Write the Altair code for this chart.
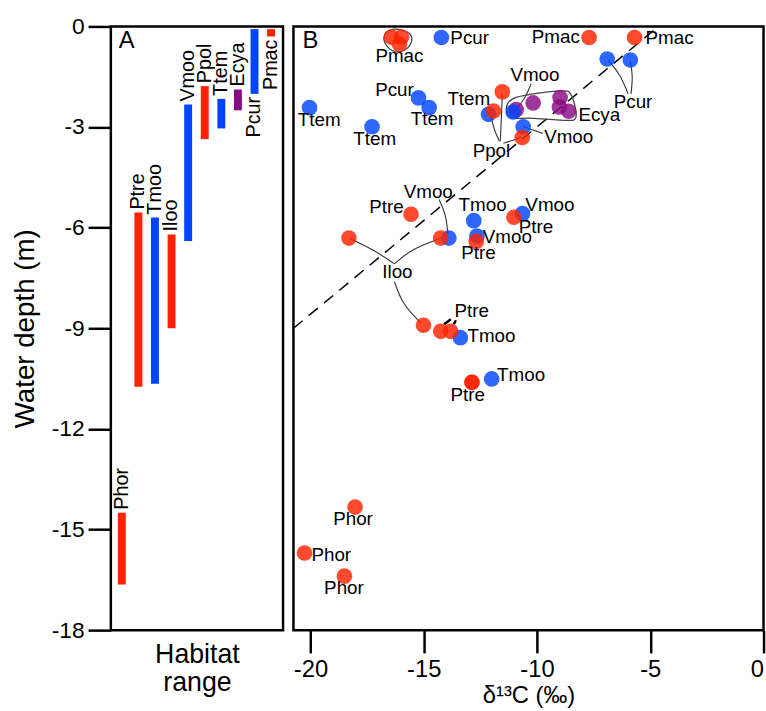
import altair as alt
import pandas as pd

FONT = "Liberation Sans"

# ---------------- Panel A : habitat depth ranges ----------------
hab_species = ["Phor", "Ptre", "Tmoo", "Iloo", "Vmoo", "Ppol", "Ttem", "Ecya", "Pcur", "Pmac"]
hab_pos = [0, 1, 2, 3, 4, 5, 6, 7, 8, 9]
hab_top = [-14.5, -5.55, -5.7, -6.2, -2.33, -1.78, -2.16, -1.88, -0.08, -0.08]
hab_bottom = [-16.64, -10.74, -10.65, -9.0, -6.4, -3.36, -3.04, -2.5, -2.01, -0.3]
hab_group = ["red", "red", "blue", "red", "blue", "red", "blue", "purple", "blue", "red"]
hab_side = ["above", "above", "above", "above", "above", "above", "above", "above", "below", "below"]

# ---------------- Panel B : d13C vs depth points ----------------
pt_x = [
    -10.92, -10.17, -8.98, -9.01, -8.60,
    -14.22, -15.23, -14.76, -20.04, -17.28, -12.14, -11.05, -10.61, -6.90, -5.88,
    -13.89, -12.79, -12.65, -10.64, -13.38, -12.00,
    -16.42, -15.98, -16.07, -7.70, -5.69, -11.53, -11.92, -10.65,
    -15.56, -18.30, -14.25, -15.01, -12.68, -11.02, -14.25, -13.81,
    -12.87, -12.87, -18.03, -20.26, -18.50,
]
pt_y = [
    -2.48, -2.28, -2.12, -2.40, -2.53,
    -0.33, -2.13, -2.42, -2.42, -2.99, -2.62, -2.55, -2.99, -0.97, -1.00,
    -6.31, -5.79, -6.25, -5.58, -9.28, -10.51,
    -0.32, -0.32, -0.53, -0.33, -0.33, -1.95, -2.52, -3.31,
    -5.60, -6.31, -6.31, -8.91, -6.41, -5.69, -9.09, -9.09,
    -10.61, -10.61, -14.33, -15.70, -16.39,
]
pt_group = (["purple"] * 5) + (["blue"] * 16) + (["red"] * 21)

lab_text = ["Pmac", "Pcur", "Pcur", "Ttem", "Ttem", "Ttem", "Ttem", "Vmoo", "Ecya", "Vmoo",
            "Ppol", "Pmac", "Pmac", "Pcur", "Ptre", "Vmoo", "Tmoo", "Vmoo", "Ptre", "Vmoo",
            "Ptre", "Iloo", "Ptre", "Tmoo", "Tmoo", "Ptre", "Phor", "Phor", "Phor"]
lab_x = [-16.07, -12.97, -16.29, -19.61, -17.16, -14.63, -13.01, -10.09, -7.25, -8.60,
         -12.01, -9.17, -4.15, -5.76, -16.64, -14.80, -12.40, -9.43, -10.04, -11.31,
         -12.58, -16.16, -12.88, -12.01, -10.70, -13.06, -18.12, -19.08, -18.52]
lab_y = [-0.88, -0.35, -1.89, -2.80, -3.36, -2.77, -2.18, -1.45, -2.65, -3.30,
         -3.72, -0.32, -0.35, -2.24, -5.40, -4.93, -5.34, -5.34, -5.99, -6.28,
         -6.76, -7.32, -8.50, -9.23, -10.38, -11.00, -14.69, -15.75, -16.76]

# leader curves (id, x, y)
lead_id = [1, 1, 1, 2, 2, 2, 3, 3, 3, 4, 4, 4, 5, 5, 5, 6, 6, 6, 7, 7, 7, 8, 8, 8, 9, 9,
           10, 10, 10, 11, 11, 11]
lead_x = [-18.30, -17.25, -16.29, -16.29, -15.55, -14.24, -16.29, -15.94, -15.11,
          -14.32, -14.02, -13.93, -11.62, -11.57, -11.53, -11.66, -11.92, -12.05,
          -11.48, -11.05, -10.70, -10.26, -10.52, -11.00, -10.61, -9.74,
          -5.98, -6.33, -6.86, -5.85, -5.76, -5.89]
lead_y = [-6.31, -6.64, -7.08, -7.08, -6.64, -6.31, -7.61, -8.29, -8.85,
          -5.16, -5.60, -6.19, -3.42, -2.74, -2.01, -3.42, -3.04, -2.60,
          -3.48, -3.39, -3.30, -1.71, -2.15, -2.54, -2.98, -3.19,
          -2.01, -1.42, -1.00, -2.01, -1.47, -1.03]

# short thick ticks near Ptre
tick_id = [1, 1, 2, 2]
tick_x = [-14.10, -13.80, -13.67, -13.58]
tick_y = [-8.88, -8.73, -8.88, -8.76]

# enclosing hulls
hull_id = ["pmac"] * 8 + ["ecya"] * 10
hull_x = [-16.72, -16.38, -15.94, -15.59, -15.55, -15.85, -16.29, -16.68,
          -11.35, -11.05, -10.17, -8.86, -8.52, -8.30, -8.30, -8.65, -10.17, -11.13]
hull_y = [-0.24, -0.09, -0.12, -0.24, -0.47, -0.71, -0.74, -0.53,
          -2.42, -2.15, -2.01, -1.92, -2.01, -2.45, -2.74, -2.80, -2.74, -2.71]

# dashed reference line
dash_x = [-20.75, -4.64]
dash_y = [-9.0, 0.0]

groups = ["red", "blue", "purple"]
group_colors = ["#ff2200", "#0044ff", "#8a0a84"]

depth_ticks = [0, -3, -6, -9, -12, -15, -18]
d13c_ticks = [-20, -15, -10, -5, 0]

# ------------------------------------------------------------------
hab_df = pd.DataFrame({"species": hab_species, "pos": hab_pos, "top": hab_top,
                       "bottom": hab_bottom, "group": hab_group, "side": hab_side})
pt_df = pd.DataFrame({"d13C": pt_x, "depth": pt_y, "group": pt_group})
lab_df = pd.DataFrame({"label": lab_text, "d13C": lab_x, "depth": lab_y})
lead_df = pd.DataFrame({"id": lead_id, "d13C": lead_x, "depth": lead_y})
lead_df["ord"] = range(len(lead_df))
tick_df = pd.DataFrame({"id": tick_id, "d13C": tick_x, "depth": tick_y})
hull_df = pd.DataFrame({"id": hull_id, "d13C": hull_x, "depth": hull_y})
hull_df["ord"] = range(len(hull_df))
dash_df = pd.DataFrame({"d13C": dash_x, "depth": dash_y})

yscale = alt.Scale(domain=[-18, 0], nice=False, zero=False)
color_scale = alt.Scale(domain=groups, range=group_colors)
num_label = "'' + datum.value"

# ---------------- Panel A ----------------
xA = alt.Scale(domain=[-0.66, 9.72], nice=False, zero=False)
baseA = alt.Chart(hab_df)
bars = baseA.mark_rule(strokeWidth=8, strokeCap="butt").encode(
    x=alt.X("pos:Q", scale=xA,
            axis=alt.Axis(title=["Habitat", "range"], ticks=False, labels=False, domain=False,
                          grid=False, titleFontSize=27, titlePadding=12, titleLineHeight=28,
                          titleFont=FONT, titleFontWeight="normal", titleColor="black")),
    y=alt.Y("top:Q", scale=yscale,
            axis=alt.Axis(values=depth_ticks, labelExpr=num_label, tickSize=23, tickWidth=2.5,
                          tickColor="black", labelFontSize=23, labelPadding=4, labelFont=FONT,
                          labelColor="black", domain=False, grid=False,
                          title="Water depth (m)", titleFontSize=28, titlePadding=12,
                          titleFont=FONT, titleFontWeight="normal", titleColor="black")),
    y2="bottom:Q",
    color=alt.Color("group:N", scale=color_scale, legend=None),
)
lab_above = baseA.transform_filter(alt.datum.side == "above").mark_text(
    angle=270, align="left", baseline="middle", dx=3, fontSize=20, font=FONT, color="black"
).encode(x="pos:Q", y="top:Q", text="species:N")
lab_below = baseA.transform_filter(alt.datum.side == "below").mark_text(
    angle=270, align="right", baseline="middle", dx=-3, fontSize=20, font=FONT, color="black"
).encode(x="pos:Q", y="bottom:Q", text="species:N")
letterA = alt.Chart(pd.DataFrame({"t": ["A"], "pos": [0.29], "depth": [-0.44]})).mark_text(
    fontSize=24, font=FONT, color="black", baseline="middle", align="center"
).encode(x="pos:Q", y="depth:Q", text="t:N")

panelA = alt.layer(bars, lab_above, lab_below, letterA).properties(width=174, height=610)

# ---------------- Panel B ----------------
xB = alt.Scale(domain=[-20.75, 0], nice=False, zero=False)
xenc = alt.X("d13C:Q", scale=xB,
             axis=alt.Axis(values=d13c_ticks, labelExpr=num_label, tickSize=23, tickWidth=2.5,
                           tickColor="black", labelFontSize=24, labelPadding=5, labelFont=FONT,
                           labelColor="black", domain=False, grid=False, labelFlush=True,
                           title="δ¹³C (‰)", titleFontSize=24, titlePadding=2, titleFont=FONT,
                           titleFontWeight="normal", titleColor="black"))
yenc = alt.Y("depth:Q", scale=yscale, axis=None)

dash = alt.Chart(dash_df).mark_line(color="black", strokeWidth=1.5, strokeDash=[12, 8]).encode(
    x=xenc, y=yenc)
hulls = alt.Chart(hull_df).mark_line(color="#444444", strokeWidth=1.3,
                                     interpolate="cardinal-closed").encode(
    x="d13C:Q", y="depth:Q", detail="id:N", order="ord:Q")
leads = alt.Chart(lead_df).mark_line(color="#333333", strokeWidth=1.1, interpolate="basis").encode(
    x="d13C:Q", y="depth:Q", detail="id:N", order="ord:Q")
ticks = alt.Chart(tick_df).mark_line(color="black", strokeWidth=2.5).encode(
    x="d13C:Q", y="depth:Q", detail="id:N")
points = alt.Chart(pt_df).mark_circle(size=250, opacity=0.82).encode(
    x="d13C:Q", y="depth:Q", color=alt.Color("group:N", scale=color_scale, legend=None))
labels = alt.Chart(lab_df).mark_text(fontSize=19, font=FONT, color="black",
                                     baseline="middle", align="center").encode(
    x="d13C:Q", y="depth:Q", text="label:N")
letterB = alt.Chart(pd.DataFrame({"t": ["B"], "d13C": [-20.0], "depth": [-0.44]})).mark_text(
    fontSize=24, font=FONT, color="black", baseline="middle", align="center"
).encode(x="d13C:Q", y="depth:Q", text="t:N")

panelB = alt.layer(dash, hulls, leads, ticks, points, labels, letterB).properties(
    width=475, height=610)

chart = alt.hconcat(panelA, panelB, spacing=3.5).properties(
    padding={"left": 10, "top": 10, "right": 0, "bottom": 0},
    background="white",
).configure_view(stroke="black", strokeWidth=2.5)

chart.save("out.html", embed_options={"renderer": "svg", "actions": False})
